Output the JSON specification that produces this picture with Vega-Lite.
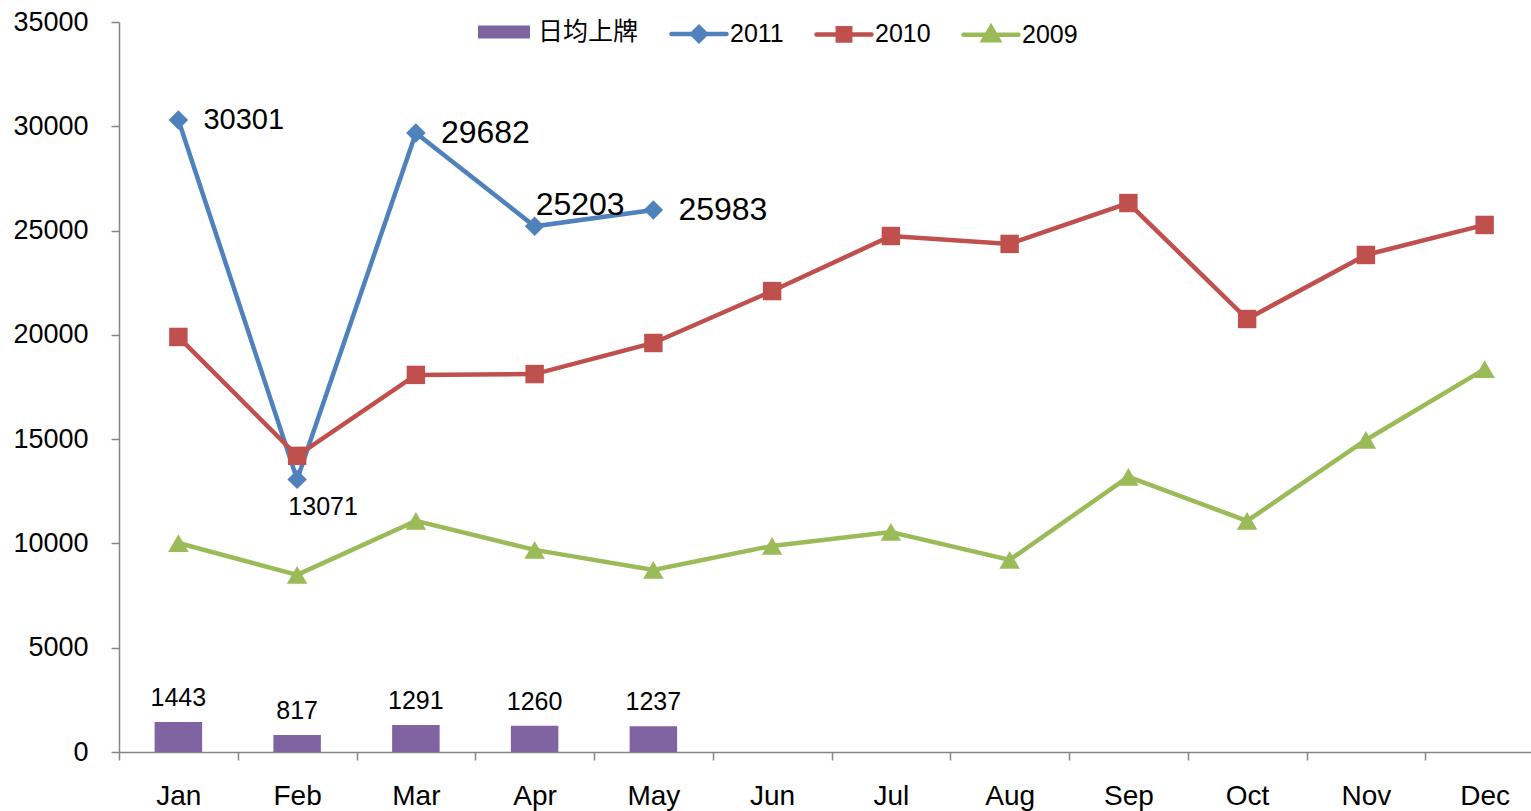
{
  "$schema": "https://vega.github.io/schema/vega-lite/v6.json",
  "width": 1425,
  "height": 730,
  "autosize": "none",
  "padding": {"left": 119, "top": 22, "right": 0, "bottom": 59},
  "background": "white",
  "config": {
    "view": {"stroke": null},
    "font": "Liberation Sans, Noto Sans CJK SC",
    "text": {"font": "Liberation Sans", "color": "#000000"}
  },
  "datasets": {
    "bars": [
      {"month": "Jan", "series": "日均上牌", "value": 1443},
      {"month": "Feb", "series": "日均上牌", "value": 817},
      {"month": "Mar", "series": "日均上牌", "value": 1291},
      {"month": "Apr", "series": "日均上牌", "value": 1260},
      {"month": "May", "series": "日均上牌", "value": 1237}
    ],
    "lines": [
      {"month": "Jan", "series": "2011", "value": 30301},
      {"month": "Feb", "series": "2011", "value": 13071},
      {"month": "Mar", "series": "2011", "value": 29682},
      {"month": "Apr", "series": "2011", "value": 25203},
      {"month": "May", "series": "2011", "value": 25983},
      {"month": "Jan", "series": "2010", "value": 19900},
      {"month": "Feb", "series": "2010", "value": 14200},
      {"month": "Mar", "series": "2010", "value": 18080},
      {"month": "Apr", "series": "2010", "value": 18120},
      {"month": "May", "series": "2010", "value": 19610},
      {"month": "Jun", "series": "2010", "value": 22100},
      {"month": "Jul", "series": "2010", "value": 24740},
      {"month": "Aug", "series": "2010", "value": 24360},
      {"month": "Sep", "series": "2010", "value": 26320},
      {"month": "Oct", "series": "2010", "value": 20760},
      {"month": "Nov", "series": "2010", "value": 23830},
      {"month": "Dec", "series": "2010", "value": 25270},
      {"month": "Jan", "series": "2009", "value": 10020},
      {"month": "Feb", "series": "2009", "value": 8490},
      {"month": "Mar", "series": "2009", "value": 11080},
      {"month": "Apr", "series": "2009", "value": 9690},
      {"month": "May", "series": "2009", "value": 8730},
      {"month": "Jun", "series": "2009", "value": 9880},
      {"month": "Jul", "series": "2009", "value": 10550},
      {"month": "Aug", "series": "2009", "value": 9210},
      {"month": "Sep", "series": "2009", "value": 13190},
      {"month": "Oct", "series": "2009", "value": 11080},
      {"month": "Nov", "series": "2009", "value": 14960},
      {"month": "Dec", "series": "2009", "value": 18360}
    ]
  },
  "encoding": {
    "x": {
      "field": "month",
      "type": "ordinal",
      "sort": ["Jan","Feb","Mar","Apr","May","Jun","Jul","Aug","Sep","Oct","Nov","Dec"],
      "scale": {
        "domain": ["Jan","Feb","Mar","Apr","May","Jun","Jul","Aug","Sep","Oct","Nov","Dec"],
        "paddingInner": 0,
        "paddingOuter": 0
      },
      "axis": {
        "title": null,
        "labelAngle": 0,
        "labelFontSize": 28,
        "labelFont": "Liberation Sans",
        "labelColor": "#000000",
        "labelPadding": 22,
        "tickBand": "extent",
        "tickSize": 8,
        "tickColor": "#868686",
        "tickWidth": 1.5,
        "domainColor": "#868686",
        "domainWidth": 1.5
      }
    },
    "y": {
      "field": "value",
      "type": "quantitative",
      "scale": {"domain": [0, 35000], "nice": false},
      "axis": {
        "title": null,
        "grid": false,
        "values": [0, 5000, 10000, 15000, 20000, 25000, 30000, 35000],
        "labelFontSize": 27,
        "labelFont": "Liberation Sans",
        "labelColor": "#000000",
        "labelPadding": 23,
        "tickSize": 8,
        "tickColor": "#868686",
        "tickWidth": 1.5,
        "domainColor": "#868686",
        "domainWidth": 1.5,
        "format": "d"
      }
    }
  },
  "layer": [
    {
      "data": {"name": "bars"},
      "mark": {"type": "bar", "width": {"band": 0.4}},
      "encoding": {
        "fill": {
          "field": "series",
          "type": "nominal",
          "scale": {"domain": ["日均上牌"], "range": ["#8064A2"]},
          "legend": {
            "orient": "none",
            "legendX": 359,
            "legendY": -16,
            "direction": "horizontal",
            "title": null,
            "padding": 0,
            "labelFontSize": 25,
            "labelFont": "Noto Sans CJK SC",
            "labelColor": "#000000",
            "symbolType": "M-1,-0.25L1,-0.25L1,0.25L-1,0.25Z",
            "symbolSize": 2704,
            "symbolStrokeWidth": 0,
            "labelOffset": 8
          }
        }
      }
    },
    {
      "data": {"name": "bars"},
      "mark": {"type": "text", "fontSize": 25, "baseline": "alphabetic", "align": "center", "dy": -16},
      "encoding": {"text": {"field": "value", "type": "quantitative", "format": "d"}}
    },
    {
      "data": {"name": "lines"},
      "mark": {"type": "line", "strokeWidth": 4.5},
      "encoding": {
        "stroke": {
          "field": "series",
          "type": "nominal",
          "scale": {"domain": ["2011", "2010", "2009"], "range": ["#4F81BD", "#C0504D", "#9BBB59"]},
          "legend": {
            "orient": "none",
            "legendX": 564,
            "legendY": -4,
            "direction": "horizontal",
            "title": null,
            "padding": 0,
            "labelFontSize": 25,
            "labelFont": "Liberation Sans",
            "labelColor": "#000000",
            "symbolSize": 756,
            "symbolStrokeWidth": 4.5,
            "labelOffset": 15,
            "columnPadding": 23,
            "encode": {
              "symbols": {
                "update": {
                  "shape": {"signal": "datum.value === '2011' ? 'M-2,0L2,0M0,-0.5L0.5,0L0,0.5L-0.5,0Z' : datum.value === '2010' ? 'M-2,0L2,0M-0.45,-0.45L0.45,-0.45L0.45,0.45L-0.45,0.45Z' : 'M-2,0L2,0M0,-0.55L0.55,0.4L-0.55,0.4Z'"},
                  "fill": {"scale": "stroke", "field": "value"},
                  "strokeCap": {"value": "round"}
                }
              }
            }
          }
        },
        "order": {"field": "series"}
      }
    },
    {
      "data": {"name": "lines"},
      "transform": [{"filter": "datum.series === '2011'"}],
      "mark": {"type": "point", "shape": "diamond", "filled": true, "size": 380, "color": "#4F81BD", "opacity": 1}
    },
    {
      "data": {"name": "lines"},
      "transform": [{"filter": "datum.series === '2010'"}],
      "mark": {"type": "point", "shape": "square", "filled": true, "size": 340, "color": "#C0504D", "opacity": 1}
    },
    {
      "data": {"name": "lines"},
      "transform": [{"filter": "datum.series === '2009'"}],
      "mark": {"type": "point", "shape": "triangle-up", "filled": true, "size": 420, "color": "#9BBB59", "opacity": 1}
    },
    {
      "data": {"name": "lines"},
      "transform": [{"filter": "datum.series === '2011' && datum.month === 'Jan'"}],
      "mark": {"type": "text", "fontSize": 29, "align": "left", "baseline": "middle", "dx": 25},
      "encoding": {"text": {"field": "value", "type": "quantitative", "format": "d"}}
    },
    {
      "data": {"name": "lines"},
      "transform": [{"filter": "datum.series === '2011' && (datum.month === 'Mar' || datum.month === 'May')"}],
      "mark": {"type": "text", "fontSize": 32, "align": "left", "baseline": "middle", "dx": 25},
      "encoding": {"text": {"field": "value", "type": "quantitative", "format": "d"}}
    },
    {
      "data": {"name": "lines"},
      "transform": [{"filter": "datum.series === '2011' && datum.month === 'Apr'"}],
      "mark": {"type": "text", "fontSize": 32, "align": "left", "baseline": "middle", "dx": 1, "dy": -21},
      "encoding": {"text": {"field": "value", "type": "quantitative", "format": "d"}}
    },
    {
      "data": {"name": "lines"},
      "transform": [{"filter": "datum.series === '2011' && datum.month === 'Feb'"}],
      "mark": {"type": "text", "fontSize": 25, "align": "center", "baseline": "middle", "dx": 26, "dy": 28},
      "encoding": {"text": {"field": "value", "type": "quantitative", "format": "d"}}
    }
  ]
}
